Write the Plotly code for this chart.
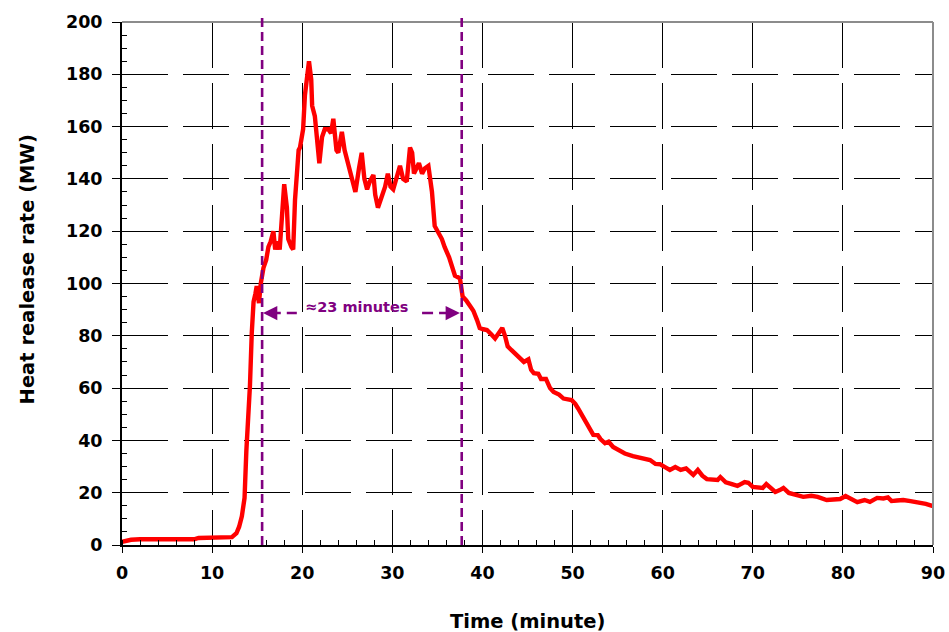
import plotly.graph_objects as go

# ---- data ----
time_min = [0.0, 0.5, 1.0, 2.0, 3.0, 4.0, 5.0, 6.0, 7.0, 8.0, 8.5, 9.5, 10.5, 11.5, 12.2, 12.7,
            13.0, 13.3, 13.6, 13.8, 14.0, 14.1, 14.2, 14.4, 14.6, 14.8, 14.95, 15.2, 15.4, 15.7,
            16.0, 16.25, 16.5, 16.8, 17.0, 17.2, 17.35, 17.5, 17.8, 18.0, 18.3, 18.45, 18.8, 19.0,
            19.2, 19.4, 19.6, 19.75, 19.95, 20.1, 20.3, 20.5, 20.75, 21.0, 21.1, 21.4, 21.7, 21.9,
            22.2, 22.5, 22.9, 23.2, 23.45, 23.8, 24.0, 24.4, 24.7, 25.1, 25.7, 25.9, 26.3, 26.6,
            26.9, 27.2, 27.5, 27.9, 28.1, 28.4, 28.8, 29.2, 29.5, 29.8, 30.1, 30.5, 30.85, 31.2,
            31.6, 31.96, 32.2, 32.4, 32.7, 32.95, 33.3, 33.6, 34.0, 34.2, 34.4, 34.7, 35.0, 35.5,
            35.8, 36.3, 36.95, 37.5, 37.8, 38.2, 38.8, 39.0, 39.4, 39.7, 40.1, 40.5, 41.0, 41.4,
            41.8, 42.2, 42.5, 42.8, 43.2, 43.7, 44.2, 44.6, 45.1, 45.4, 45.7, 46.2, 46.5, 47.05,
            47.5, 47.9, 48.5, 49.0, 49.9, 50.3, 50.6, 51.2, 51.75, 52.3, 52.8, 53.1, 53.6, 54.0,
            54.5, 55.3, 55.8, 56.7, 57.85, 58.6, 59.2, 59.7, 60.4, 60.8, 61.4, 62.0, 62.6, 63.4,
            63.9, 64.4, 64.9, 65.5, 66.1, 66.4, 67.0, 67.5, 68.3, 69.1, 69.5, 70.0, 70.6, 71.1,
            71.5, 72.0, 72.5, 73.0, 73.4, 74.0, 74.8, 75.6, 76.5, 77.2, 78.2, 79.0, 79.7, 80.3,
            81.0, 81.6, 82.4, 83.0, 83.8, 84.5, 85.0, 85.4, 86.0, 86.7, 87.5, 88.4, 89.2, 90.0]
hrr_mw = [1.2, 1.6, 2.0, 2.2, 2.2, 2.1, 2.0, 1.9, 2.0, 2.2, 2.7, 2.8, 2.7, 2.8, 3.0, 4.5,
          7, 11, 18, 36, 47, 52, 61, 81, 93, 96, 99, 92.5, 100, 106,
          109, 114, 116, 120, 113, 116, 115, 113, 132, 138, 129, 117, 114, 113,
          132, 140, 151, 152, 157, 159, 172, 177, 185, 178, 168, 164, 152, 146,
          156, 159, 159, 157.5, 163, 151, 150, 158, 151, 146, 138, 135, 144, 150,
          140, 136, 139, 141.5, 134, 129, 133, 137, 142, 137, 136, 141.5, 145, 140,
          139, 152, 150, 142, 144, 146, 142, 144, 145, 140, 135, 122, 120, 117,
          114, 110, 103, 102, 95, 93.5, 90.5, 89.5, 86, 83, 82.5, 82.2, 80.5, 79,
          81, 83, 80, 76, 74.6, 73, 71, 70, 71, 67, 65.7, 65.5, 63.5, 63.5,
          60, 58.5, 57.5, 56, 55.4, 54, 52.3, 48.5, 45.3, 42.1, 42, 40.5, 38.9, 39.5,
          37.5, 36, 35, 34, 33.2, 32.5, 31, 30.9, 29.5, 28.7, 29.8, 28.7, 29.3, 26.8,
          28.7, 26.5, 25.2, 25, 24.9, 26, 24, 23.5, 22.6, 24.1, 23.8, 22.2, 21.8, 21.8,
          23.3, 21.5, 20.3, 21, 21.8, 19.9, 19, 18.4, 18.8, 18.4, 17.2, 17.6, 17.6, 18.7,
          17.2, 16.4, 17.2, 16.5, 18, 17.8, 18.2, 16.8, 17, 17.2, 16.8, 16.4, 15.7, 14.9]

marker_times = [15.55, 37.7]          # purple dashed verticals
duration_label = "≈23 minutes"
label_pos = (26.1, 91)
arrow_level = 88.7
arrow_tips = (15.65, 37.5)
shaft_left = (16.4, 19.4)
shaft_right = (33.3, 36.7)

x_title = "Time (minute)"
y_title = "Heat realease rate (MW)"

PURPLE = "#800080"
FONT = "DejaVu Sans"

fig = go.Figure()
fig.add_trace(go.Scatter(x=time_min, y=hrr_mw, mode="lines",
                         line=dict(color="#FF0000", width=4.4),
                         showlegend=False, hoverinfo="skip"))
# invisible trace to carry the overlay axis (inside part of crossing major ticks)
fig.add_trace(go.Scatter(x=[None], y=[None], xaxis="x2", showlegend=False, hoverinfo="skip"))

grid_dash = "46px,15px"
tickfont = dict(family=FONT, size=17.5, color="black", weight="bold")
titlefont = dict(family=FONT, size=19.5, color="black", weight="bold")

fig.update_layout(
    width=949, height=632,
    margin=dict(l=122, r=16, t=22, b=87, autoexpand=False),
    paper_bgcolor="white", plot_bgcolor="white",
    showlegend=False,
    xaxis=dict(range=[0, 90], tick0=0, dtick=10, showline=True, linecolor="black", linewidth=2,
               ticks="outside", ticklen=6, tickwidth=1.2, tickcolor="black",
               showgrid=True, gridcolor="black", gridwidth=1, griddash=grid_dash,
               zeroline=False, tickfont=tickfont, automargin=False, ticklabelstandoff=5,
               ticklabeloverflow="allow",
               minor=dict(dtick=2, ticks="inside", ticklen=5, tickwidth=1.2, tickcolor="black", showgrid=False)),
    xaxis2=dict(overlaying="x", matches="x", anchor="y", side="bottom", range=[0, 90],
                tick0=0, dtick=10, ticks="inside", ticklen=6, tickwidth=1.2, tickcolor="black",
                showticklabels=False, showgrid=False, showline=False, zeroline=False, automargin=False),
    yaxis=dict(range=[0, 200], tick0=0, dtick=20, showline=True, linecolor="black", linewidth=2,
               ticks="outside", ticklen=8, tickwidth=1.2, tickcolor="black",
               showgrid=True, gridcolor="black", gridwidth=1, griddash=grid_dash,
               zeroline=False, tickfont=tickfont, automargin=False, ticklabelstandoff=6,
               ticklabeloverflow="allow",
               minor=dict(dtick=5, ticks="inside", ticklen=5, tickwidth=1.2, tickcolor="black", showgrid=False)),
)

# axis titles as annotations (positions in plot-fraction units)
fig.add_annotation(x=0.5, y=-0.147, xref="paper", yref="paper", text=x_title, showarrow=False,
                   xanchor="center", yanchor="middle", font=titlefont)
fig.add_annotation(x=-0.1165, y=0.526, xref="paper", yref="paper", text=y_title, showarrow=False,
                   textangle=-90, xanchor="center", yanchor="middle", font=titlefont)

# grey top/right frame
fig.add_shape(type="line", xref="paper", yref="paper", x0=0, x1=1, y0=1, y1=1,
              line=dict(color="#8c8c8c", width=2), layer="above")
fig.add_shape(type="line", xref="paper", yref="paper", x0=1, x1=1, y0=0, y1=1,
              line=dict(color="#8c8c8c", width=2), layer="above")

# purple dashed vertical markers
for t in marker_times:
    fig.add_shape(type="line", xref="x", yref="paper", x0=t, x1=t, y0=0, y1=1.016,
                  line=dict(color=PURPLE, width=2.6, dash="9px,5px"), layer="above")

# dashed arrow shafts
for a, b in (shaft_left, shaft_right):
    fig.add_shape(type="line", xref="x", yref="y", x0=a, x1=b, y0=arrow_level, y1=arrow_level,
                  line=dict(color=PURPLE, width=2.6, dash="11px,6px"), layer="above")

# arrow heads
fig.add_annotation(x=arrow_tips[0], y=arrow_level, ax=arrow_tips[0] + 1.1, ay=arrow_level,
                   axref="x", ayref="y", xref="x", yref="y", text="", showarrow=True,
                   arrowhead=2, arrowsize=1.1, arrowwidth=2.6, arrowcolor=PURPLE)
fig.add_annotation(x=arrow_tips[1], y=arrow_level, ax=arrow_tips[1] - 1.1, ay=arrow_level,
                   axref="x", ayref="y", xref="x", yref="y", text="", showarrow=True,
                   arrowhead=2, arrowsize=1.1, arrowwidth=2.6, arrowcolor=PURPLE)

fig.add_annotation(x=label_pos[0], y=label_pos[1], xref="x", yref="y", text=duration_label,
                   showarrow=False, font=dict(family=FONT, size=14.5, color=PURPLE, weight="bold"))

# remove the default 8px page margin so the figure sits at the window origin
fig.write_html("out.html", config={"displayModeBar": False},
               post_script="document.body.style.margin='0';document.body.style.overflow='hidden';")
